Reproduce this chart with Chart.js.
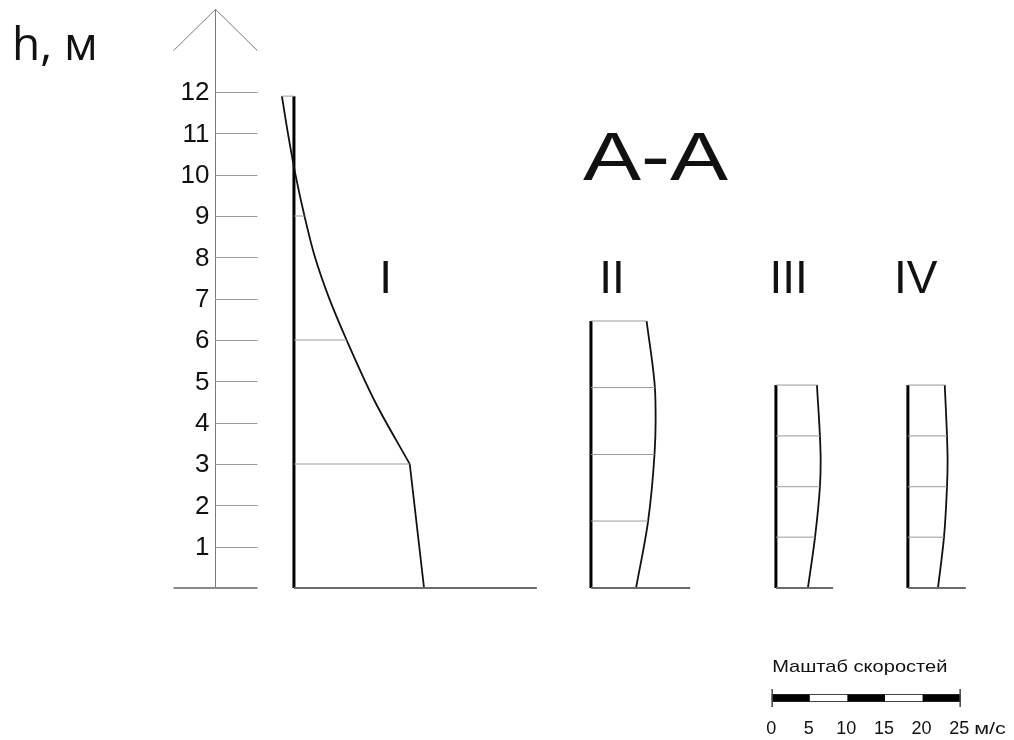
<!DOCTYPE html>
<html>
<head>
<meta charset="utf-8">
<title>Эпюры скоростей, разрез А-А</title>
<script src="https://cdn.jsdelivr.net/npm/chart.js@4.4.1/dist/chart.umd.min.js"></script>
<style>
  html, body { margin: 0; padding: 0; background: #fff; }
  #wrap { width: 1014px; height: 740px; }
</style>
</head>
<body>
<div id="wrap"><canvas id="profiles" width="1014" height="740"></canvas></div>
<script>
// Глубины (h, м) и скорости (м/с) по вертикалям I-IV
const depthsI   = [0, 3, 4.5, 6, 7, 8, 9, 10, 11, 11.9];
const speedsI   = [17.3, 15.4, 10.8, 7.0, 4.7, 2.8, 1.4, 0.2, -0.8, -1.6];
const depthsII  = [0, 1.62, 3.23, 4.04, 4.85, 6.46];
const speedsII  = [6.0, 7.6, 8.45, 8.6, 8.5, 7.4];
const depthsIII = [0, 1.23, 2.45, 3.07, 3.68, 4.91];
const speedsIII = [4.25, 5.2, 5.85, 5.95, 5.85, 5.45];
const depthsIV  = [0, 1.23, 2.45, 3.07, 3.68, 4.91];
const speedsIV  = [4.0, 4.8, 5.2, 5.28, 5.2, 4.9];

// уровни, на которых проведены горизонтали эпюр
const levelsI   = [3, 6, 9, 11.9];
const levelsII  = [1.62, 3.23, 4.85, 6.46];
const levelsIII = [1.23, 2.45, 3.68, 4.91];
const levelsIV  = [1.23, 2.45, 3.68, 4.91];

const heightTicks = [1, 2, 3, 4, 5, 6, 7, 8, 9, 10, 11, 12];
const scaleTicks  = [0, 5, 10, 15, 20, 25];

// положение вертикалей вдоль оси скоростей (м/с от оси h) и длина дна
const stations = [
  { name: 'I',   at: 10.5,  bed: 32.3, depths: depthsI,   speeds: speedsI,   levels: levelsI,   kink: 1, label: 22.7 },
  { name: 'II',  at: 50.0,  bed: 13.2, depths: depthsII,  speeds: speedsII,  levels: levelsII,  kink: 0, label: 52.8 },
  { name: 'III', at: 74.6,  bed: 7.6,  depths: depthsIII, speeds: speedsIII, levels: levelsIII, kink: 0, label: 76.3 },
  { name: 'IV',  at: 92.15, bed: 7.7,  depths: depthsIV,  speeds: speedsIV,  levels: levelsIV,  kink: 0, label: 93.2 }
];
const scaleStart = 74.1;

function line(data, color, width, smooth) {
  return {
    data: data,
    borderColor: color,
    borderWidth: width,
    cubicInterpolationMode: smooth ? 'monotone' : 'default',
    tension: 0,
    pointRadius: 0,
    clip: false
  };
}

function profileDatasets(st) {
  const pt = (v, h) => ({ x: st.at + v, y: h });
  const top = st.depths[st.depths.length - 1];
  const sets = [];

  // дно
  sets.push(line([pt(0, 0), pt(st.bed, 0)], '#6a6a6a', 2));

  // горизонтали до эпюры
  st.levels.forEach(h => {
    const v = st.speeds[st.depths.indexOf(h)];
    sets.push(line([pt(0, h), pt(v, h)], '#9a9a9a', 1));
  });

  // эпюра скоростей (гладкая по h, у I излом на h = 3)
  const curve = st.depths.map((h, i) => pt(st.speeds[i], h));
  if (st.kink) {
    sets.push(line(curve.slice(0, st.kink + 1), '#111', 1.8));
    sets.push(line(curve.slice(st.kink), '#111', 1.8, true));
  } else {
    sets.push(line(curve, '#111', 1.8, true));
  }

  // вертикаль
  sets.push(line([pt(0, 0), pt(0, top)], '#000', 3));
  return sets;
}

// текст, растянутый по ширине
function fillWide(ctx, text, x, y, sx) {
  ctx.save();
  ctx.translate(x, y);
  ctx.scale(sx, 1);
  ctx.fillText(text, 0, 0);
  ctx.restore();
}

const sketchPlugin = {
  id: 'sketch',
  afterDraw(chart) {
    const { ctx, scales: { x, y } } = chart;
    const ax = Math.round(x.getPixelForValue(0)) + 0.5;
    const y0 = y.getPixelForValue(0);
    ctx.save();

    // ось h со стрелкой
    ctx.strokeStyle = '#7a7a7a';
    ctx.lineWidth = 1;
    ctx.beginPath();
    ctx.moveTo(ax, y0);
    ctx.lineTo(ax, y.getPixelForValue(14));
    ctx.moveTo(ax - 42, y.getPixelForValue(13));
    ctx.lineTo(ax, y.getPixelForValue(14));
    ctx.lineTo(ax + 42, y.getPixelForValue(13));
    ctx.stroke();

    ctx.strokeStyle = '#9a9a9a';
    heightTicks.forEach(t => {
      const ty = Math.round(y.getPixelForValue(t)) + 0.5;
      ctx.beginPath();
      ctx.moveTo(ax, ty);
      ctx.lineTo(ax + 42, ty);
      ctx.stroke();
    });
    ctx.strokeStyle = '#8a8a8a';
    ctx.lineWidth = 2;
    ctx.beginPath();
    ctx.moveTo(ax - 42, y0);
    ctx.lineTo(ax + 42, y0);
    ctx.stroke();

    ctx.fillStyle = '#111';
    ctx.font = '26px "Liberation Sans", Arial, sans-serif';
    ctx.textAlign = 'right';
    ctx.textBaseline = 'middle';
    heightTicks.forEach(t => {
      ctx.fillText(String(t), ax - 6, y.getPixelForValue(t) + 1);
    });

    // подписи
    ctx.textBaseline = 'alphabetic';
    ctx.textAlign = 'left';
    ctx.font = '46px "Open Sans", sans-serif';
    ctx.fillText('h, м', 12, 60);

    ctx.font = '68px "Liberation Sans", Arial, sans-serif';
    fillWide(ctx, 'А-А', 583, 180, 1.28);

    ctx.textAlign = 'center';
    ctx.font = '46px "Liberation Sans", Arial, sans-serif';
    stations.forEach(st => {
      ctx.fillText(st.name, x.getPixelForValue(st.label), y.getPixelForValue(7.14));
    });

    // масштаб скоростей
    const sx = v => x.getPixelForValue(scaleStart + v);
    const barY = 698;
    ctx.textAlign = 'left';
    ctx.font = '17px "Liberation Sans", Arial, sans-serif';
    fillWide(ctx, 'Маштаб скоростей', sx(0), 672, 1.18);

    ctx.strokeStyle = '#444';
    ctx.lineWidth = 1;
    ctx.strokeRect(sx(0), barY - 3.5, sx(25) - sx(0), 7);
    ctx.fillStyle = '#000';
    [0, 10, 20].forEach(v => {
      ctx.fillRect(sx(v), barY - 3.5, sx(v + 5) - sx(v), 7);
    });
    ctx.lineWidth = 1.5;
    ctx.beginPath();
    [0, 25].forEach(v => {
      ctx.moveTo(sx(v), barY - 9);
      ctx.lineTo(sx(v), barY + 9);
    });
    ctx.stroke();

    ctx.fillStyle = '#111';
    ctx.textAlign = 'center';
    ctx.font = '18px "Liberation Sans", Arial, sans-serif';
    scaleTicks.forEach(v => {
      ctx.fillText(String(v), sx(v) - 1, 734);
    });
    ctx.textAlign = 'left';
    ctx.font = '16px "Liberation Sans", Arial, sans-serif';
    fillWide(ctx, 'м/с', sx(25) + 14, 734, 1.35);

    ctx.restore();
  }
};

const datasets = [];
stations.forEach(st => datasets.push(...profileDatasets(st)));

new Chart(document.getElementById('profiles').getContext('2d'), {
  type: 'line',
  data: { datasets: datasets },
  options: {
    indexAxis: 'y',
    responsive: false,
    animation: false,
    devicePixelRatio: 1,
    layout: { padding: { left: 215, right: 17, top: 92, bottom: 152 } },
    plugins: {
      legend: { display: false },
      tooltip: { enabled: false }
    },
    scales: {
      x: { type: 'linear', min: 0, max: 104, display: false },
      y: { type: 'linear', min: 0, max: 12, display: false }
    }
  },
  plugins: [sketchPlugin]
});
</script>
</body>
</html>
